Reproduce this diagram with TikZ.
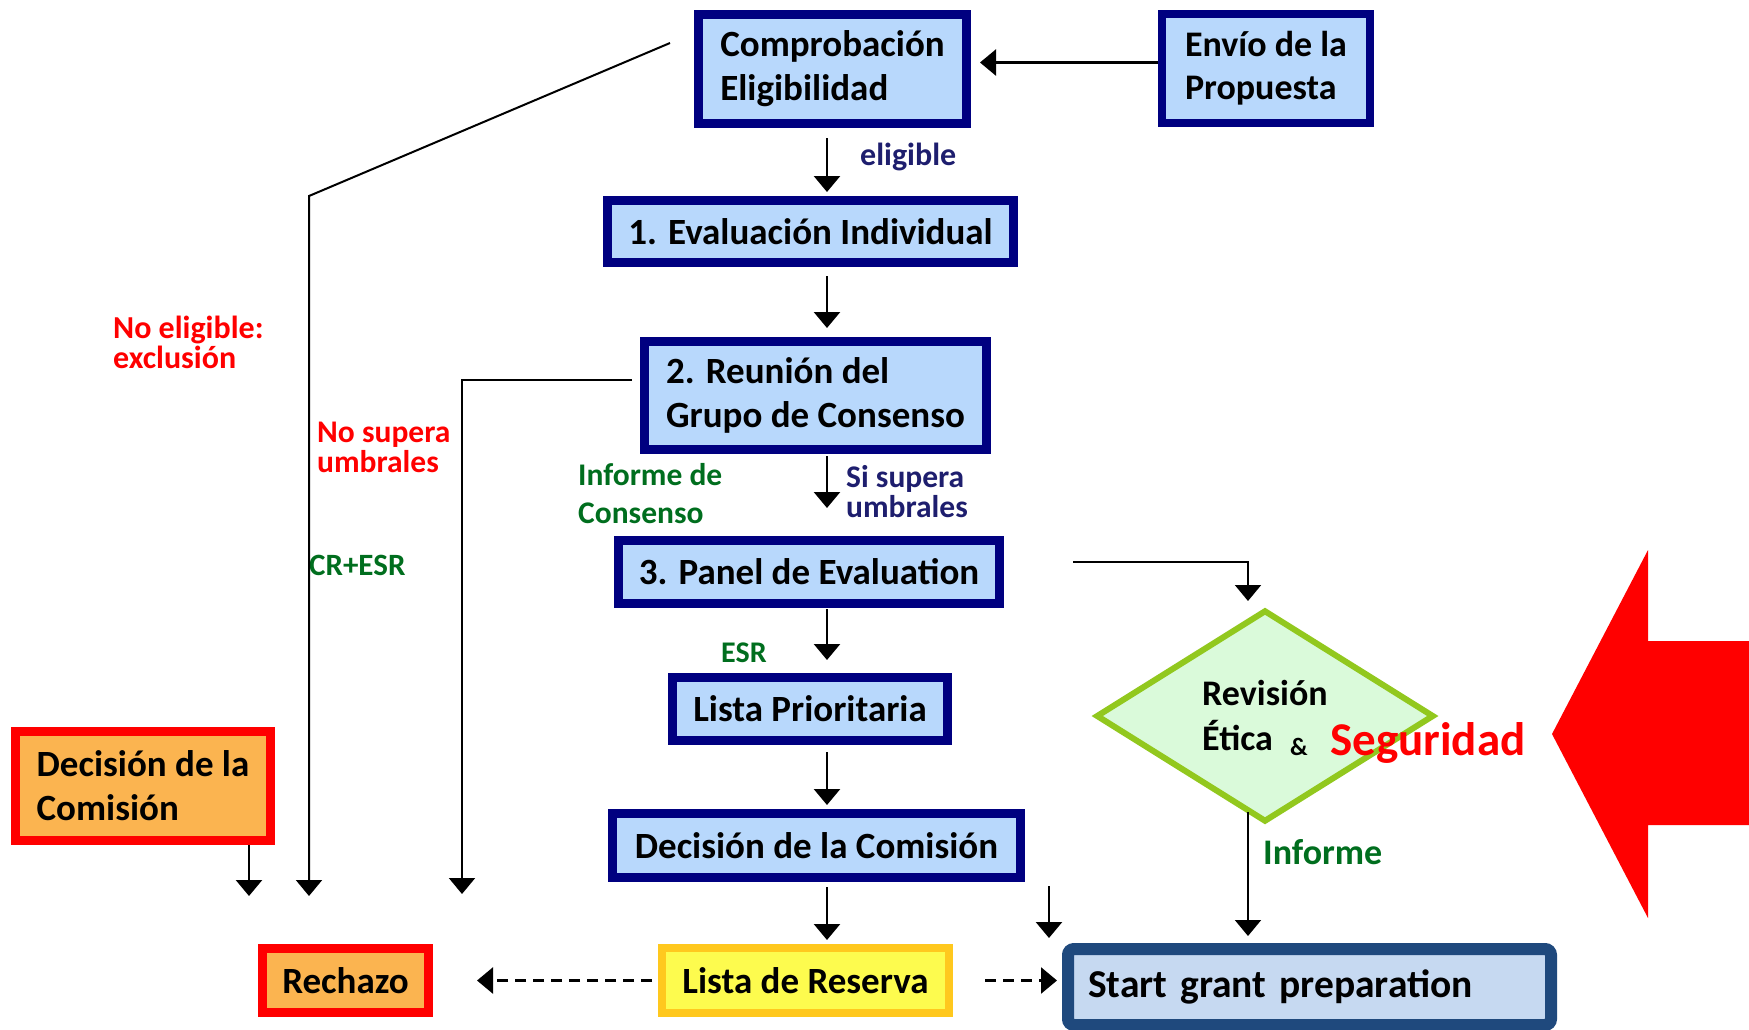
\documentclass[tikz,border=0pt]{standalone}
\usepackage{fontspec}
\setmainfont{Carlito}
\usetikzlibrary{arrows.meta,shapes.geometric}
\definecolor{navyB}{RGB}{0,0,128}
\definecolor{boxF}{RGB}{184,216,252}
\definecolor{startB}{RGB}{31,73,125}
\definecolor{startF}{RGB}{198,217,241}
\definecolor{orF}{RGB}{251,180,80}
\definecolor{redB}{RGB}{255,0,0}
\definecolor{resF}{RGB}{253,251,78}
\definecolor{resB}{RGB}{255,200,30}
\definecolor{dmF}{RGB}{218,250,218}
\definecolor{dmB}{RGB}{146,200,30}
\definecolor{lgreen}{RGB}{0,110,30}
\definecolor{lnavy}{RGB}{30,30,110}
\newcommand\myfs[2]{\fontsize{#1}{#2}\selectfont\bfseries}
\tikzset{
  bluebox/.style={draw=navyB, line width=9pt, fill=boxF, inner sep=0pt, align=left, font=\myfs{37}{44}},
  orbox/.style={draw=redB, line width=9pt, fill=orF, inner sep=0pt, align=left, font=\myfs{37}{44}},
  resbox/.style={draw=resB, line width=8pt, fill=resF, inner sep=0pt, align=left, font=\myfs{37}{44}},
  arr/.style={line width=2.5pt, -{Triangle[width=26pt,length=16pt]}},
  dsh/.style={dash pattern=on 11pt off 7pt},
  lbl/.style={anchor=base west, inner sep=0pt},
}
\begin{document}
\begin{tikzpicture}[x=1pt,y=-1pt]
\useasboundingbox (0,0) rectangle (1749,1029);
\fill[white] (0,0) rectangle (1749,1029);

% red big arrow
\fill[redB] (1552,734) -- (1648,550) -- (1648,641) -- (1749,641) -- (1749,825) -- (1648,825) -- (1648,918) -- cycle;

% boxes
\node[bluebox, minimum width=268pt, minimum height=109pt] (comp) at (832.5,69) {Comprobación\\Eligibilidad};
\node[bluebox, line width=8pt, font=\myfs{36}{43}, minimum width=208pt, minimum height=109pt] (envio) at (1266,68.5) {Envío de la\\Propuesta};
\node[bluebox, minimum width=406pt, minimum height=62pt] (box1) at (810.5,231.5) {1. Evaluación Individual};
\node[bluebox, minimum width=342pt, minimum height=108pt] (box2) at (815.5,395.5) {2. Reunión del\\Grupo de Consenso};
\node[bluebox, minimum width=381pt, minimum height=63pt] (box3) at (809,572) {3. Panel de Evaluation};
\node[bluebox, minimum width=275pt, minimum height=63pt] (lp) at (810,709) {Lista Prioritaria};
\node[bluebox, minimum width=408pt, minimum height=64pt] (dec) at (816.5,845.5) {Decisión de la Comisión};
\node[resbox, minimum width=287pt, minimum height=65pt] (reserva) at (805.5,980.5) {Lista de Reserva};
\node[orbox, minimum width=166pt, minimum height=64pt] (rechazo) at (345.5,980.5) {Rechazo};
\node[orbox, minimum width=255pt, minimum height=109pt] (decL) at (143,786) {Decisión de la\\Comisión};
\node[draw=startB, fill=startF, line width=12pt, rounded corners=6pt, text width=443pt, inner xsep=20pt, inner ysep=0pt, minimum height=76pt, align=left, font=\myfs{39.5}{47}] (start) at (1309.5,987) {Start grant preparation};

% diamond
\node[diamond, draw=dmB, fill=dmF, line width=6pt, minimum width=338pt, minimum height=212pt, inner sep=0pt] (etica) at (1265,716) {};
\node[lbl, font=\myfs{36}{43}] (rev) at (1202,705) {Revisión};
\node[lbl, font=\myfs{36}{43}] (eti) at (1202,750) {Ética};
\node[lbl, font=\myfs{25}{30}] (amp) at (1290,755) {\&};
\node[lbl, font=\myfs{47}{56}, text=redB] (seg) at (1330,755) {Seguridad};

% labels
\node[lbl, font=\myfs{32}{38}, text=lnavy] (leli) at (860,165) {eligible};
\node[lbl, font=\myfs{32}{38}, text=redB] (lne1) at (113,338) {No eligible:};
\node[lbl, font=\myfs{32}{38}, text=redB] (lne2) at (113,368) {exclusión};
\node[lbl, font=\myfs{31.5}{38}, text=redB] (lns1) at (317,442) {No supera};
\node[lbl, font=\myfs{31.5}{38}, text=redB] (lns2) at (317,472) {umbrales};
\node[lbl, font=\myfs{31.5}{38}, text=lgreen] (lic1) at (578,485) {Informe de};
\node[lbl, font=\myfs{31.5}{38}, text=lgreen] (lic2) at (578,523) {Consenso};
\node[lbl, font=\myfs{31.5}{38}, text=lnavy] (lsi1) at (846,487) {Si supera};
\node[lbl, font=\myfs{31.5}{38}, text=lnavy] (lsi2) at (846,517) {umbrales};
\node[lbl, font=\myfs{31}{38}, text=lgreen] (lcr) at (309,575) {CR+ESR};
\node[lbl, font=\myfs{30}{36}, text=lgreen] (lesr) at (721,662) {ESR};
\node[lbl, font=\myfs{36}{43}, text=lgreen] (linf) at (1263,864) {Informe};

% helper coordinates
\coordinate (cx) at (827,0);
\coordinate (fx) at (1049,0);
\coordinate (dg) at (309,196);
\coordinate (endA) at (309,896);
\coordinate (b2c) at (462,380);
\coordinate (endB) at (462,894);
\coordinate (endC) at (249,896);
\coordinate (rc) at (1248,562);
\coordinate (ex) at (1248,0);
\coordinate (ebot) at (1248,812);

% main column arrows
\draw[arr, shorten <=10pt, shorten >=4pt] (cx |- comp.south) -- (cx |- box1.north);
\draw[arr, shorten <=9pt, shorten >=9pt] (cx |- box1.south) -- (cx |- box2.north);
\draw[arr, shorten <=2pt, shorten >=28pt] (cx |- box2.south) -- (cx |- box3.north);
\draw[arr, shorten <=1pt, shorten >=13pt] (cx |- box3.south) -- (cx |- lp.north);
\draw[arr, shorten <=7pt, shorten >=4pt] (cx |- lp.south) -- (cx |- dec.north);
\draw[arr, shorten <=5pt, shorten >=4pt] (cx |- dec.south) -- (cx |- reserva.north);
\draw[arr, shorten <=4pt, shorten >=5pt] (fx |- dec.south) -- (fx |- start.north);

% Envio -> Comprobacion
\draw[arr, shorten >=9pt] ([yshift=6pt]envio.west) -- ([yshift=6pt]envio.west -| comp.east);

% dashed
\draw[arr, dsh, shorten <=6pt, shorten >=44pt] (reserva.west) -- (reserva.west -| rechazo.east);
\draw[arr, dsh, shorten <=32pt, shorten >=5pt] (reserva.east) -- (reserva.east -| start.west);

% left rejection lines
\draw[arr, line width=2pt] ([xshift=-24pt,yshift=26pt]comp.west) -- (dg) -- (endA);
\draw[arr, line width=2pt] ([xshift=-8pt,yshift=15.5pt]box2.west) -- (b2c) -- (endB);
\draw[arr] (endC |- decL.south) -- (endC);

% ethics branch
\draw[arr, line width=2pt, shorten >=6pt] ([xshift=69pt,yshift=10pt]box3.east) -- (rc) -- (rc |- etica.north);
\draw[arr, line width=2pt, shorten >=7pt] (ebot) -- (ex |- start.north);
\end{tikzpicture}
\end{document}
